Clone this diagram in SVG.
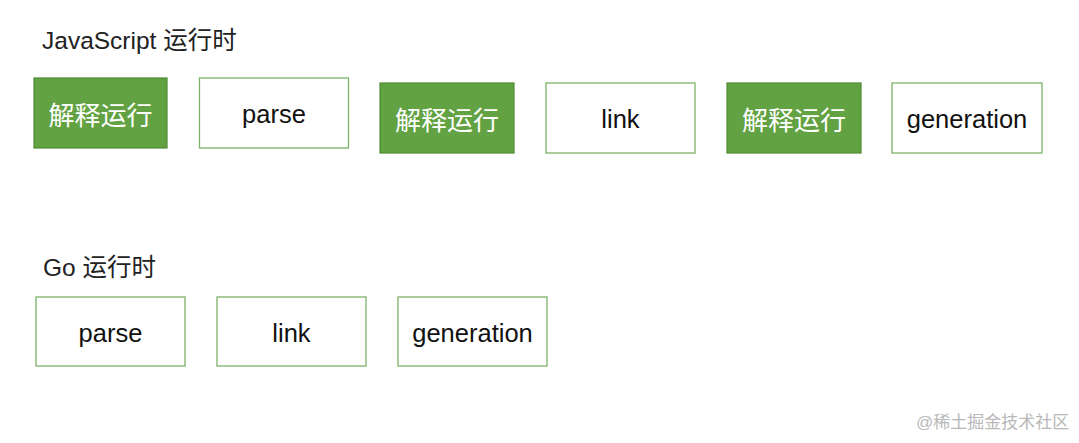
<svg xmlns="http://www.w3.org/2000/svg" width="1079" height="443" viewBox="0 0 1079 443">
<style>
text{font-family:"Liberation Sans","Noto Sans CJK SC",sans-serif}
.title{font-size:24.5px;fill:#222}
.g rect{fill:#62a243;stroke:#4e8a34;stroke-width:1.2}
.g text{fill:#fff;font-size:26px;text-anchor:middle}
.w rect{fill:#fff;stroke:#7db267;stroke-width:1.3}
.w text{fill:#111;font-size:25.5px;text-anchor:middle}
.wm{font-size:17px;fill:#b8b8b8}
</style>
<rect width="1079" height="443" fill="#fff"/>
<text class="title" x="42" y="49">JavaScript 运行时</text>
<text class="title" x="43" y="276">Go 运行时</text>
<g id="js-interp1" class="g"><rect x="34" y="78" width="133" height="70"/><text x="100.5" y="125">解释运行</text></g>
<g id="js-parse" class="w"><rect x="199.5" y="78" width="149" height="70"/><text x="274" y="123">parse</text></g>
<g id="js-interp2" class="g"><rect x="380" y="83" width="134" height="70"/><text x="447" y="130">解释运行</text></g>
<g id="js-link" class="w"><rect x="546" y="83" width="149" height="70"/><text x="620.5" y="128">link</text></g>
<g id="js-interp3" class="g"><rect x="727" y="83" width="134" height="70"/><text x="794" y="130">解释运行</text></g>
<g id="js-generation" class="w"><rect x="892" y="83" width="150" height="70"/><text x="967" y="128">generation</text></g>
<g id="go-parse" class="w"><rect x="36" y="297" width="149" height="69"/><text x="110.5" y="342">parse</text></g>
<g id="go-link" class="w"><rect x="217" y="297" width="149" height="69"/><text x="291.5" y="342">link</text></g>
<g id="go-generation" class="w"><rect x="398" y="297" width="149" height="69"/><text x="472.5" y="342">generation</text></g>
<g id="connectors"></g>
<text class="wm" x="916" y="428">@稀土掘金技术社区</text>
</svg>
